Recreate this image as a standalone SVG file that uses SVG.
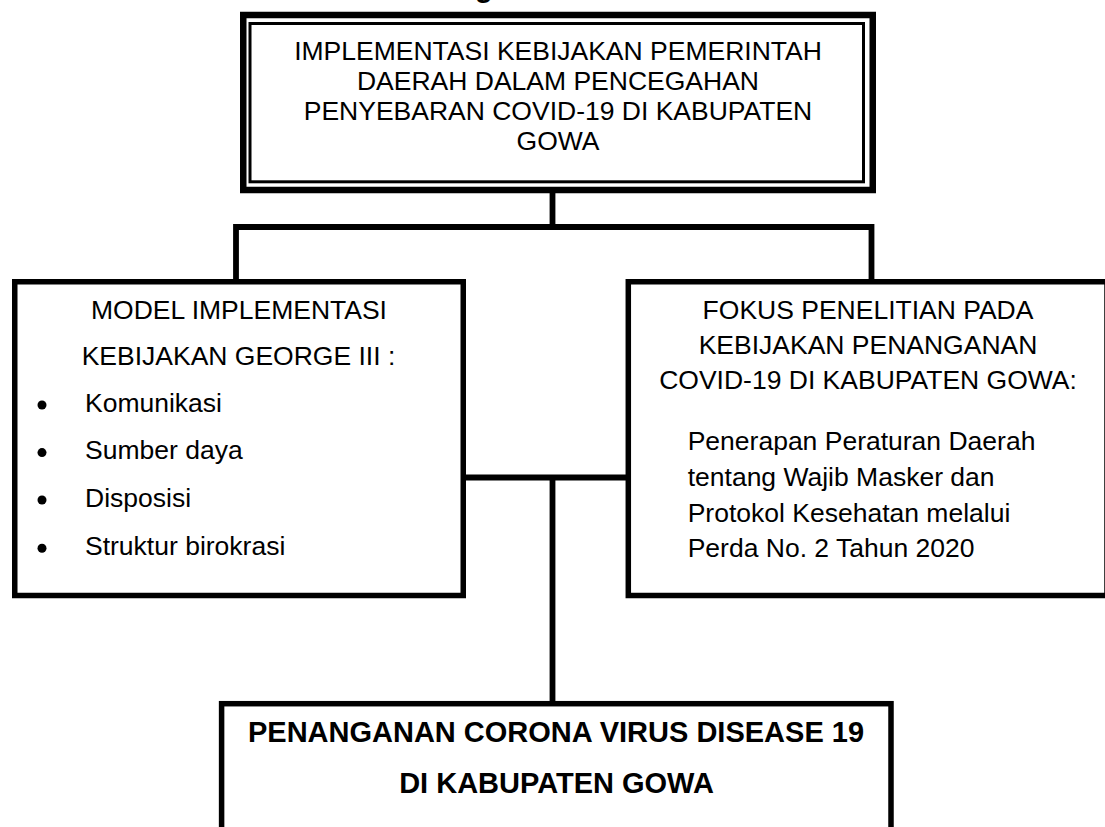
<svg xmlns="http://www.w3.org/2000/svg" width="1105" height="827" viewBox="0 0 1105 827">
<style>
.t{font-family:"Liberation Sans",Arial,sans-serif;font-size:26.5px;fill:#000}
.c{text-anchor:middle}
.b{font-weight:bold;font-size:29px}
.box{fill:#fff;stroke:#000;stroke-width:5.5}
.conn{fill:none;stroke:#000;stroke-width:5.8;stroke-linejoin:miter;stroke-linecap:butt}
.dot{fill:#000}
</style>
<rect x="0" y="0" width="1105" height="827" fill="#fff"/>
<text class="t b" x="475" y="-3.5">g</text>
<g id="connectors">
<path class="conn" d="M552.5,190 V227"/>
<path class="conn" d="M236,282 V227 H871.5 V282"/>
<path class="conn" d="M463,477.5 H629"/>
<path class="conn" d="M552.5,477.5 V704"/>
</g>
<g id="node-top">
<rect x="243.25" y="15" width="629.5" height="175" fill="#fff" stroke="#000" stroke-width="6.5"/>
<rect x="250" y="23.5" width="613.5" height="158.3" fill="none" stroke="#000" stroke-width="3"/>
<text class="t c" x="558" y="60">IMPLEMENTASI KEBIJAKAN PEMERINTAH</text>
<text class="t c" x="558" y="90">DAERAH DALAM PENCEGAHAN</text>
<text class="t c" x="558" y="120">PENYEBARAN COVID-19 DI KABUPATEN</text>
<text class="t c" x="558" y="150">GOWA</text>
</g>
<g id="node-left">
<rect class="box" x="14.75" y="281.75" width="448.5" height="313.75"/>
<text class="t c" x="239" y="318.5">MODEL IMPLEMENTASI</text>
<text class="t c" x="238.5" y="365">KEBIJAKAN GEORGE III :</text>
<circle class="dot" cx="42" cy="405" r="4.5"/>
<text class="t" x="85" y="411.7">Komunikasi</text>
<circle class="dot" cx="42" cy="452.6" r="4.5"/>
<text class="t" x="85" y="459.3">Sumber daya</text>
<circle class="dot" cx="42" cy="500" r="4.5"/>
<text class="t" x="85" y="506.7">Disposisi</text>
<circle class="dot" cx="42" cy="548.3" r="4.5"/>
<text class="t" x="85" y="555">Struktur birokrasi</text>
</g>
<g id="node-right">
<rect class="box" x="628.3" y="281.75" width="478.7" height="313.75"/>
<text class="t c" x="868" y="318.5">FOKUS PENELITIAN PADA</text>
<text class="t c" x="868" y="353.5">KEBIJAKAN PENANGANAN</text>
<text class="t c" x="868" y="388.5">COVID-19 DI KABUPATEN GOWA:</text>
<text class="t" x="687.7" y="450">Penerapan Peraturan Daerah</text>
<text class="t" x="687.7" y="486">tentang Wajib Masker dan</text>
<text class="t" x="687.7" y="521.7">Protokol Kesehatan melalui</text>
<text class="t" x="687.7" y="556.7">Perda No. 2 Tahun 2020</text>
</g>
<g id="node-bottom">
<rect class="box" x="221.6" y="703.7" width="669.4" height="200"/>
<text class="t b c" x="556" y="742.3">PENANGANAN CORONA VIRUS DISEASE 19</text>
<text class="t b c" x="556.5" y="793.3">DI KABUPATEN GOWA</text>
</g>
</svg>
